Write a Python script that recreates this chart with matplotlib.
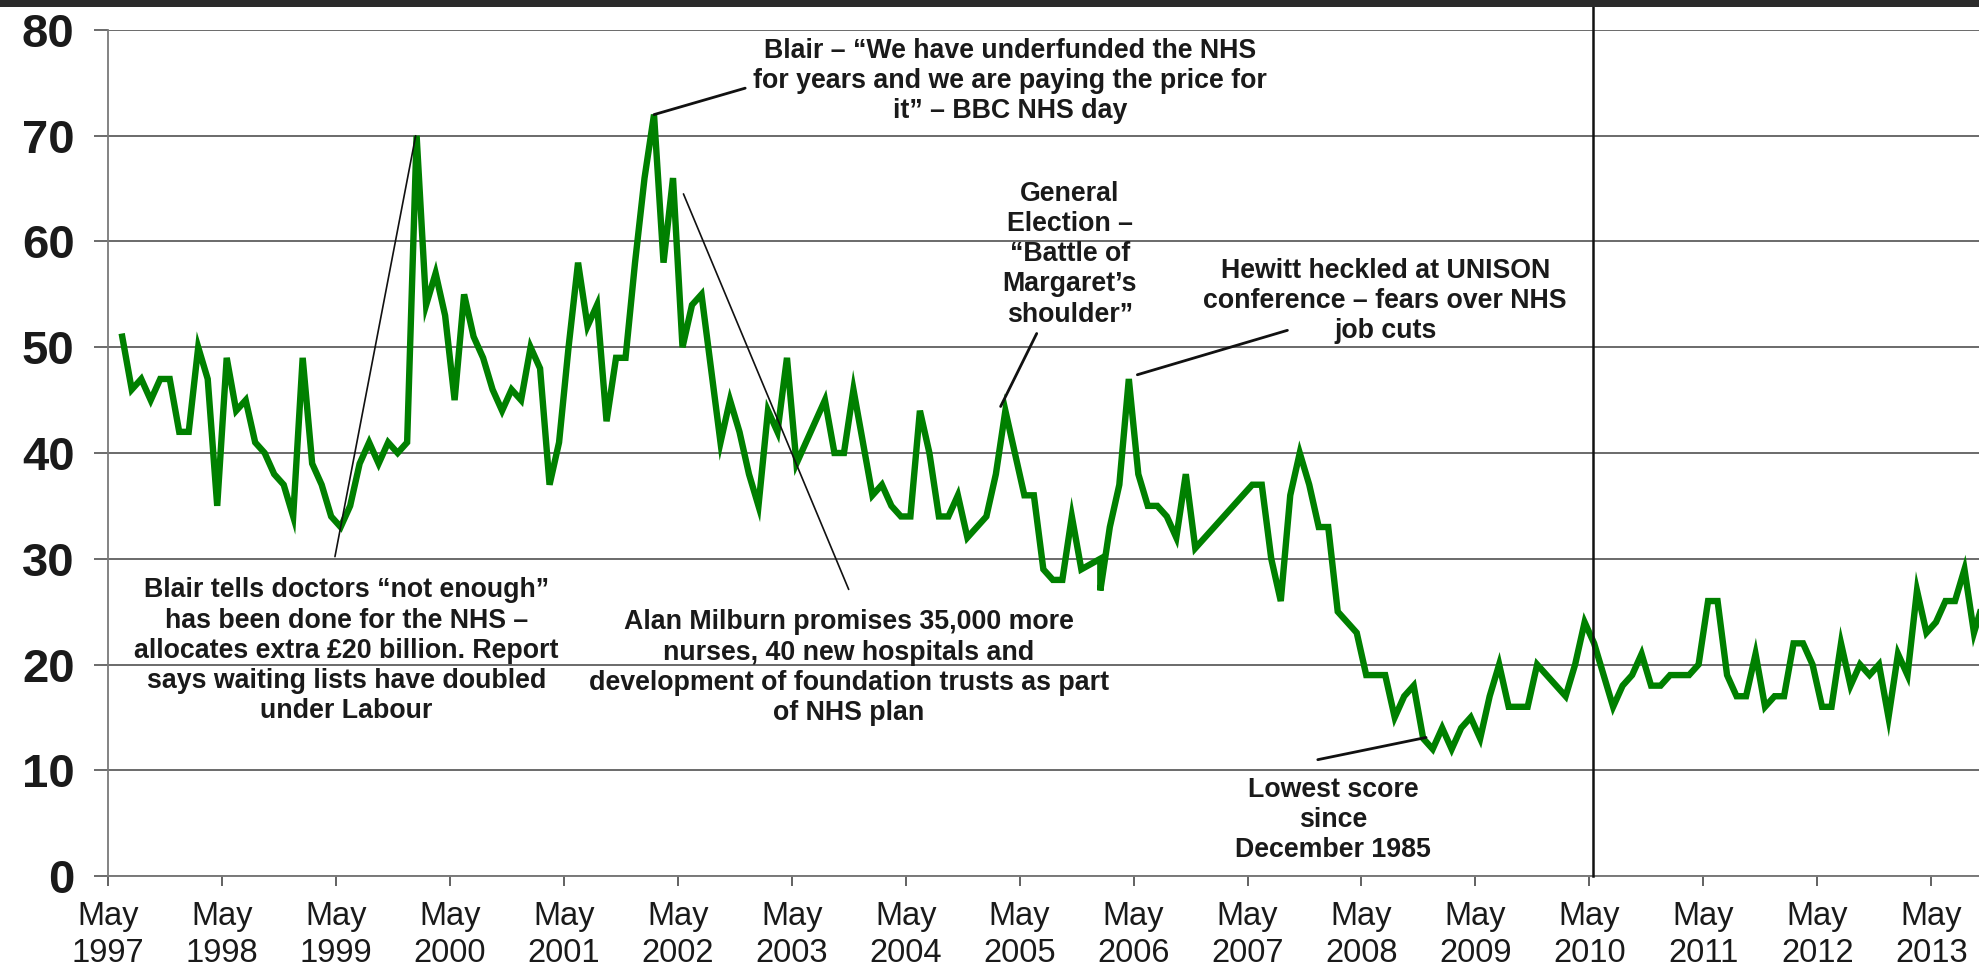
import matplotlib
matplotlib.use("Agg")
import matplotlib.pyplot as plt
from matplotlib.patches import Rectangle

plt.rcParams['font.family'] = ['Liberation Sans', 'DejaVu Sans']

# months since May 1997 (point plotted mid-month)
months = [1, 2, 3, 4, 5, 6, 7, 8, 9, 10, 11, 12, 13, 14, 15, 16, 17, 18, 19, 20,
          21, 22, 23, 24, 25, 26, 27, 28, 29, 30, 31, 32, 33, 34, 35, 36, 37, 38, 39, 40,
          41, 42, 43, 44, 45, 46, 47, 48, 49, 50, 51, 52, 53, 54, 55, 56, 57, 58, 59, 60,
          61, 62, 63, 64, 65, 66, 67, 68, 69, 70, 71, 72, 75, 76, 77, 78, 79, 80, 81, 82,
          83, 84, 85, 86, 87, 88, 89, 90, 91, 92, 93, 94, 95, 96, 97, 98, 99, 100, 101, 102,
          104, 104, 105, 106, 107, 108, 109, 110, 111, 112, 113, 114, 120, 121, 122, 123, 124, 125, 126, 127,
          128, 129, 130, 131, 132, 133, 134, 135, 136, 137, 138, 139, 140, 141, 142, 143, 144, 145, 146, 147,
          148, 149, 150, 153, 154, 155, 156, 157, 158, 159, 160, 161, 162, 163, 164, 165, 166, 167, 168, 169,
          170, 171, 172, 173, 174, 175, 176, 177, 178, 179, 180, 181, 182, 183, 184, 185, 186, 187, 188, 189,
          190, 191, 192, 193, 194, 195, 196, 197]
scores = [51, 46, 47, 45, 47, 47, 42, 42, 50, 47, 35, 49, 44, 45, 41, 40, 38, 37, 34, 49,
          39, 37, 34, 33, 35, 39, 41, 39, 41, 40, 41, 70, 54, 57, 53, 45, 55, 51, 49, 46,
          44, 46, 45, 50, 48, 37, 41, 50, 58, 52, 54, 43, 49, 49, 58, 66, 72, 58, 66, 50,
          54, 55, 48, 41, 45, 42, 38, 35, 44, 42, 49, 39, 45, 40, 40, 46, 41, 36, 37, 35,
          34, 34, 44, 40, 34, 34, 36, 32, 33, 34, 38, 44, 40, 36, 36, 29, 28, 28, 34, 29,
          30, 27, 33, 37, 47, 38, 35, 35, 34, 32, 38, 31, 37, 37, 30, 26, 36, 40, 37, 33,
          33, 25, 24, 23, 19, 19, 19, 15, 17, 18, 13, 12, 14, 12, 14, 15, 13, 17, 20, 16,
          16, 16, 20, 17, 20, 24, 22, 19, 16, 18, 19, 21, 18, 18, 19, 19, 19, 20, 26, 26,
          19, 17, 17, 21, 16, 17, 17, 22, 22, 20, 16, 16, 22, 18, 20, 19, 20, 15, 21, 19,
          27, 23, 24, 26, 26, 29, 23, 26]

tick_months = [0, 12, 24, 36, 48, 60, 72, 84, 96, 108, 120, 132, 144, 156, 168, 180, 192]
tick_labels = ['May\n%d' % y for y in range(1997, 2014)]
y_ticks = [0, 10, 20, 30, 40, 50, 60, 70, 80]

election_2010 = 156.4

annotations = [
    # text, text position (x, y), line start, line end, line width
    ("Blair \u2013 \u201cWe have underfunded the NHS\nfor years and we are paying the price for\nit\u201d \u2013 BBC NHS day",
     (95.0, 75.2), (67.1, 74.5), (57.5, 72.0), 2.0),
    ("General\nElection \u2013\n\u201cBattle of\nMargaret\u2019s\nshoulder\u201d",
     (101.3, 58.8), (97.8, 51.3), (94.0, 44.4), 2.0),
    ("Hewitt heckled at UNISON\nconference \u2013 fears over NHS\njob cuts",
     (134.5, 54.4), (124.2, 51.6), (108.4, 47.4), 2.0),
    ("Blair tells doctors \u201cnot enough\u201d\nhas been done for the NHS \u2013\nallocates extra \u00a320 billion. Report\nsays waiting lists have doubled\nunder Labour",
     (25.1, 21.3), (23.9, 30.2), (32.4, 70.0), 1.2),
    ("Alan Milburn promises 35,000 more\nnurses, 40 new hospitals and\ndevelopment of foundation trusts as part\nof NHS plan",
     (78.0, 19.7), (78.0, 27.1), (60.6, 64.5), 1.2),
    ("Lowest score\nsince\nDecember 1985",
     (129.0, 5.3), (127.4, 11.0), (138.8, 13.1), 2.0),
]

W, H = 1979, 972
fig = plt.figure(figsize=(W / 100, H / 100), dpi=100)
fig.patch.set_facecolor('white')
left, bottom, top = 108, 96, 30
ax = fig.add_axes([left / W, bottom / H, (W - left) / W, (H - bottom - top) / H])

x = [m + 0.5 for m in months]
ax.plot(x, scores, color='#008000', lw=4.6, solid_joinstyle='miter', zorder=3)

ax.set_xlim(0, (W - left) / 9.496)
ax.set_ylim(0, 80)
ax.set_yticks(y_ticks)
ax.set_yticklabels([str(v) for v in y_ticks], fontsize=34, fontweight='bold', color='#1a1a1a')
ax.set_xticks(tick_months)
ax.set_xticklabels(tick_labels, fontsize=23.5, color='#1a1a1a', linespacing=1.27)

ax.yaxis.grid(True, color='#6a6a6a', lw=1.4)
ax.set_axisbelow(True)
for s in ['top', 'right']:
    ax.spines[s].set_visible(False)
ax.spines['left'].set_color('#7a7a7a')
ax.spines['left'].set_linewidth(1.3)
ax.spines['bottom'].set_color('#7a7a7a')
ax.spines['bottom'].set_linewidth(1.4)
ax.tick_params(axis='y', length=10, width=1.4, color='#6a6a6a', pad=14)
ax.tick_params(axis='x', length=7, width=1.3, color='#555555', pad=11)

# vertical marker line at May 2010 (runs to top of figure)
ax.axvline(election_2010, ymin=0, ymax=(H - bottom) / (H - bottom - top), color='#111111',
           lw=1.8, clip_on=False, zorder=4)

for text, tpos, p0, p1, lw in annotations:
    ax.annotate('', xy=p1, xytext=p0,
                arrowprops=dict(arrowstyle='-', color='#111111', lw=lw,
                                shrinkA=0, shrinkB=0), zorder=5)
    ax.text(tpos[0], tpos[1], text, ha='center', va='center', multialignment='center',
            fontsize=19.3, fontweight='bold', color='#1a1a1a', linespacing=1.21, zorder=6)

fig.patches.append(Rectangle((0, 1 - 7 / H), 1, 7 / H, transform=fig.transFigure,
                             facecolor='#2b2b2b', edgecolor='none', zorder=10))

fig.savefig('out.png', dpi=100)
